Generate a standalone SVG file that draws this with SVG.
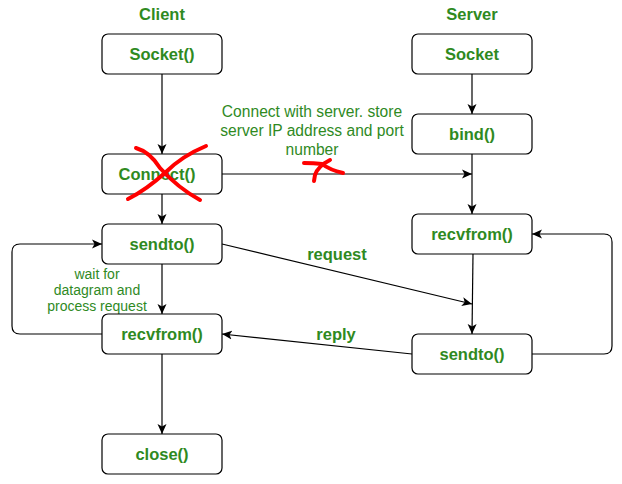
<svg xmlns="http://www.w3.org/2000/svg" width="622" height="484" viewBox="0 0 622 484">
<defs>
<marker id="arr" viewBox="0 0 10 10" refX="10" refY="5" markerWidth="10" markerHeight="10" markerUnits="userSpaceOnUse" orient="auto">
<path d="M0,0.5 L10,5 L0,9.5 L2.5,5 z" fill="#000"/>
</marker>
</defs>
<style>
.box{fill:#fff;stroke:#000;stroke-width:1.2}
.lbl{font-family:"Liberation Sans",Arial,sans-serif;font-weight:bold;font-size:16.5px;fill:#2f8a1f;text-anchor:middle}
.note{font-family:"Liberation Sans",Arial,sans-serif;font-size:15.6px;fill:#2f8a1f;text-anchor:middle}
.small{font-family:"Liberation Sans",Arial,sans-serif;font-size:14px;fill:#2f8a1f;text-anchor:middle}
.edge{fill:none;stroke:#000;stroke-width:1.2;marker-end:url(#arr)}
.red{fill:none;stroke:#f00;stroke-width:4;stroke-linecap:round;stroke-linejoin:round}
</style>
<rect width="622" height="484" fill="#fff"/>
<text class="lbl" x="162" y="20">Client</text>
<text class="lbl" x="472" y="20">Server</text>
<g id="connectors">
<path class="edge" d="M162,74 V154"/>
<path class="edge" d="M162,194 V224"/>
<path class="edge" d="M162,264 V314"/>
<path class="edge" d="M162,354 V434"/>
<path class="edge" d="M102,334 H20 Q12,334 12,326 V252 Q12,244 20,244 H102"/>
<path class="edge" d="M222,174 H472"/>
<path class="edge" d="M472,74 V114"/>
<path class="edge" d="M472,154 V214"/>
<path class="edge" d="M473,254 L472,334"/>
<path class="edge" d="M222,244 L472,304"/>
<path class="edge" d="M412,354 L222,334"/>
<path class="edge" d="M532,354 H604 Q612,354 612,346 V242 Q612,234 604,234 H532"/>
<text class="lbl" x="337" y="260">request</text>
<text class="lbl" x="336" y="340">reply</text>
<text class="note" x="312" y="117">Connect with server. store</text>
<text class="note" x="312" y="136">server IP address and port</text>
<text class="note" x="312" y="155">number</text>
<text class="small" x="97" y="279">wait for</text>
<text class="small" x="97" y="295">datagram and</text>
<text class="small" x="97" y="311">process request</text>
</g>
<g id="c_socket"><rect class="box" x="102" y="34" width="120" height="40" rx="6"/><text class="lbl" x="162" y="60">Socket()</text></g>
<g id="c_connect"><rect class="box" x="102" y="154" width="120" height="40" rx="6"/><text class="lbl" x="157" y="180">Connect()</text></g>
<g id="c_sendto"><rect class="box" x="102" y="224" width="120" height="40" rx="6"/><text class="lbl" x="162" y="250">sendto()</text></g>
<g id="c_recvfrom"><rect class="box" x="102" y="314" width="120" height="40" rx="6"/><text class="lbl" x="162" y="340">recvfrom()</text></g>
<g id="c_close"><rect class="box" x="102" y="434" width="120" height="40" rx="6"/><text class="lbl" x="162" y="460">close()</text></g>
<g id="s_socket"><rect class="box" x="412" y="34" width="120" height="40" rx="6"/><text class="lbl" x="472" y="60">Socket</text></g>
<g id="s_bind"><rect class="box" x="412" y="114" width="120" height="40" rx="6"/><text class="lbl" x="472" y="140">bind()</text></g>
<g id="s_recvfrom"><rect class="box" x="412" y="214" width="120" height="40" rx="6"/><text class="lbl" x="472" y="240">recvfrom()</text></g>
<g id="s_sendto"><rect class="box" x="412" y="334" width="120" height="40" rx="6"/><text class="lbl" x="472" y="360">sendto()</text></g>
<g id="marks">
<path class="red" d="M136,148 Q150,152 160,168 Q178,188 200,200"/>
<path class="red" d="M206,146 Q182,156 166,172 Q146,190 128,199"/>
<path class="red" d="M304,163 Q314,163 322,164 Q330,170 343,173"/>
<path class="red" d="M330,160 Q318,166 315,175 L314,181"/>
</g>
</svg>
